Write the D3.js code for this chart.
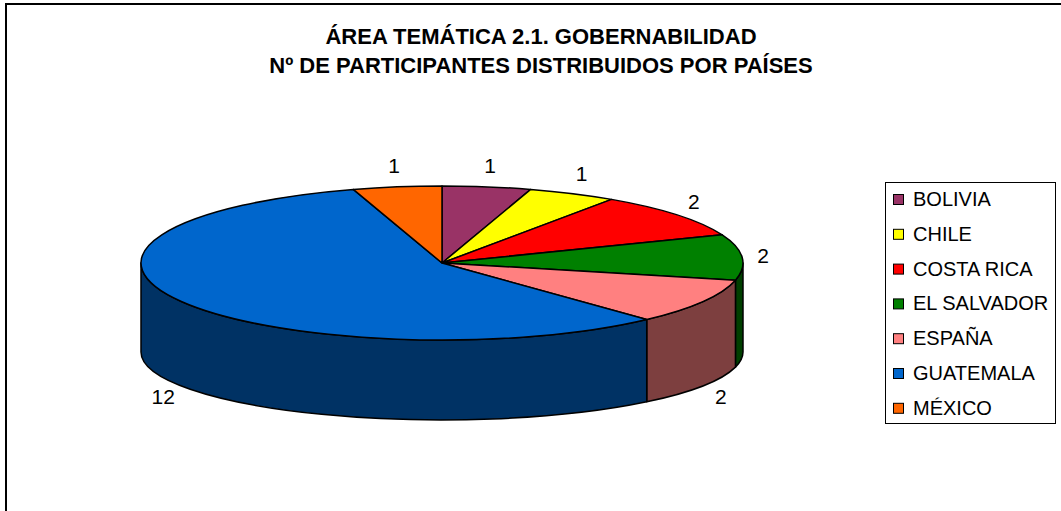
<!DOCTYPE html>
<html>
<head>
<meta charset="utf-8">
<script src="https://cdn.jsdelivr.net/npm/d3@7"></script>
<style>
  body { margin: 0; background: #fff; }
  svg { display: block; font-family: "Liberation Sans", Arial, sans-serif; }
</style>
</head>
<body>
<div id="chart"></div>
<script>
// data
const titleLines = ["ÁREA TEMÁTICA 2.1. GOBERNABILIDAD", "Nº DE PARTICIPANTES DISTRIBUIDOS POR PAÍSES"];
const countries = ["BOLIVIA", "CHILE", "COSTA RICA", "EL SALVADOR", "ESPAÑA", "GUATEMALA", "MÉXICO"];
const participants = [1, 1, 2, 2, 2, 12, 1];

const palette = ["#993366", "#ffff00", "#ff0000", "#008000", "#ff8080", "#0066cc", "#ff6600"];

const W = 1061, H = 511;
const cx = 442, cy = 263;   // centre of the top face
const rx = 301, ry = 77;    // top ellipse radii
const depth = 89;           // drop of the bottom ellipse centre
const ryBottom = 68;        // bottom ellipse looks flatter (perspective)

const color = d3.scaleOrdinal().domain(countries).range(palette);
const sideColor = c => d3.rgb(color(c)).darker(2).toString();

const svg = d3.select('#chart').append('svg')
  .attr('width', W)
  .attr('height', H);

svg.append('rect').attr('width', W).attr('height', H).attr('fill', '#fff');

// outer chart frame (runs off right and bottom)
svg.append('rect')
  .attr('x', 6).attr('y', 4)
  .attr('width', W + 20).attr('height', H + 20)
  .attr('fill', 'none')
  .attr('stroke', '#000')
  .attr('stroke-width', 2);

// title
svg.append('g').selectAll('text')
  .data(titleLines)
  .join('text')
  .attr('x', 541)
  .attr('y', (d, i) => 44 + i * 29)
  .attr('text-anchor', 'middle')
  .attr('font-size', 22)
  .attr('font-weight', 'bold')
  .text(d => d);

const pie = d3.pie().sort(null).value(d => d.v);
const arcs = pie(countries.map((c, i) => ({ c: c, v: participants[i] })));

// angle 0 at 12 o'clock, clockwise, same as d3.pie
function pt(a) {
  return [cx + rx * Math.sin(a), cy - ry * Math.cos(a)];
}
function ptBottom(a) {
  return [cx + rx * Math.sin(a), cy + depth - ryBottom * Math.cos(a)];
}

// front wall: only between 90 and 270 degrees
function wallPath(a0, a1) {
  const s = Math.max(a0, Math.PI / 2), e = Math.min(a1, 3 * Math.PI / 2);
  if (e <= s) return null;
  const p0 = pt(s), p1 = pt(e), q1 = ptBottom(e), q0 = ptBottom(s);
  const large = (e - s) > Math.PI ? 1 : 0;
  return `M${p0}A${rx},${ry} 0 ${large} 1 ${p1}L${q1}A${rx},${ryBottom} 0 ${large} 0 ${q0}Z`;
}

function topPath(a0, a1) {
  const p0 = pt(a0), p1 = pt(a1);
  const large = (a1 - a0) > Math.PI ? 1 : 0;
  return `M${cx},${cy}L${p0}A${rx},${ry} 0 ${large} 1 ${p1}Z`;
}

const gPie = svg.append('g')
  .attr('stroke', '#000')
  .attr('stroke-width', 1.5)
  .attr('stroke-linejoin', 'round');

gPie.selectAll('path.wall')
  .data(arcs.filter(d => wallPath(d.startAngle, d.endAngle)))
  .join('path')
  .attr('class', 'wall')
  .attr('d', d => wallPath(d.startAngle, d.endAngle))
  .attr('fill', d => sideColor(d.data.c));

gPie.selectAll('path.top')
  .data(arcs)
  .join('path')
  .attr('class', 'top')
  .attr('d', d => topPath(d.startAngle, d.endAngle))
  .attr('fill', d => color(d.data.c));

// value labels outside the pie
const lrx = 322, lry = 99;
svg.append('g').selectAll('text')
  .data(arcs)
  .join('text')
  .attr('x', d => cx + lrx * Math.sin((d.startAngle + d.endAngle) / 2))
  .attr('y', d => {
    const m = (d.startAngle + d.endAngle) / 2;
    const c = Math.cos(m);
    return c < 0 ? cy + 84 - lry * c : cy - lry * c;
  })
  .attr('dy', '0.36em')
  .attr('text-anchor', 'middle')
  .attr('font-size', 21)
  .text(d => d.data.v);

// legend
const legend = svg.append('g');
legend.append('rect')
  .attr('x', 885.5).attr('y', 182.5)
  .attr('width', 170).attr('height', 241)
  .attr('fill', '#fff')
  .attr('stroke', '#000')
  .attr('stroke-width', 1);

const items = legend.selectAll('g.item')
  .data(countries)
  .join('g')
  .attr('class', 'item')
  .attr('transform', (d, i) => `translate(0,${206 + i * 34.8})`);

items.append('rect')
  .attr('x', 893.5).attr('y', -11.5)
  .attr('width', 10).attr('height', 10)
  .attr('fill', d => color(d))
  .attr('stroke', '#000')
  .attr('stroke-width', 1);

items.append('text')
  .attr('x', 913)
  .attr('y', 0)
  .attr('font-size', 20)
  .text(d => d);
</script>
</body>
</html>
